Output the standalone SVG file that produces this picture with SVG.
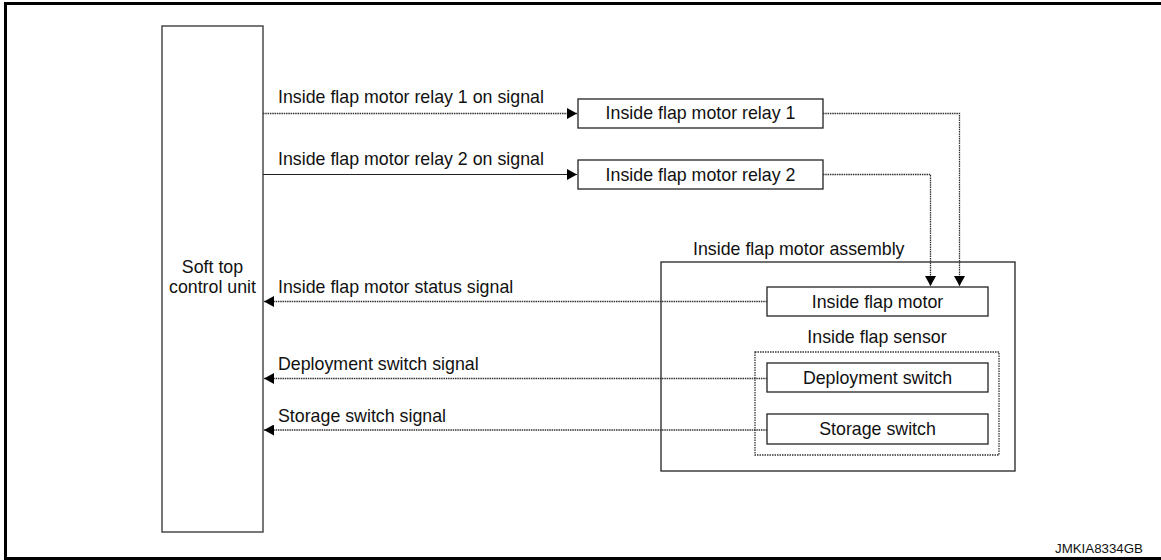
<svg xmlns="http://www.w3.org/2000/svg" width="1161" height="560" viewBox="0 0 1161 560">
  <style>
    text { font-family: "Liberation Sans", Arial, sans-serif; font-size: 17.8px; fill: #111; }
    .mid { text-anchor: middle; }
    .box { fill: #fff; stroke: #222; stroke-width: 1.3; }
    .unit { fill: #fff; stroke: #555; stroke-width: 1.6; }
    .dotbox { fill: none; stroke: #333; stroke-width: 1.3; stroke-dasharray: 1.5 1; }
    .wire { fill: none; stroke: #222; stroke-width: 1.2; }
    .dot { fill: none; stroke: #333; stroke-width: 1.3; stroke-dasharray: 1.5 0.8; }
  </style>
  <defs>
    <marker id="arrow" viewBox="0 0 10 11" refX="10" refY="5.5" markerWidth="10" markerHeight="11" markerUnits="userSpaceOnUse" orient="auto">
      <path d="M0,0 L10,5.5 L0,11 Z" fill="#000"/>
    </marker>
  </defs>

  <rect x="0" y="0" width="1161" height="560" fill="#fff"/>
  <!-- outer frame -->
  <path d="M5.5,560 V3.5 H1161 M5.5,558.5 H1161" fill="none" stroke="#000" stroke-width="3"/>

  <g id="soft-top-control-unit">
    <rect class="unit" x="162" y="26" width="101" height="506"/>
    <text class="mid" x="212.5" y="273">Soft top</text>
    <text class="mid" x="212.5" y="293">control unit</text>
  </g>

  <g id="relay-1">
    <rect class="box" x="578" y="99" width="245" height="29"/>
    <text class="mid" x="700.5" y="119">Inside flap motor relay 1</text>
  </g>

  <g id="relay-2">
    <rect class="box" x="578" y="160" width="245" height="29"/>
    <text class="mid" x="700.5" y="181">Inside flap motor relay 2</text>
  </g>

  <g id="motor-assembly">
    <rect class="box" x="661" y="262" width="354" height="209"/>
    <text x="693" y="255">Inside flap motor assembly</text>
  </g>

  <g id="inside-flap-motor">
    <rect class="box" x="767" y="287" width="221" height="29"/>
    <text class="mid" x="877.5" y="308">Inside flap motor</text>
  </g>

  <g id="inside-flap-sensor">
    <rect class="dotbox" x="755" y="352" width="244" height="103"/>
    <text class="mid" x="877" y="343">Inside flap sensor</text>
  </g>

  <g id="deployment-switch">
    <rect class="box" x="767" y="363" width="221" height="29"/>
    <text class="mid" x="877.5" y="384">Deployment switch</text>
  </g>

  <g id="storage-switch">
    <rect class="box" x="767" y="414" width="221" height="30"/>
    <text class="mid" x="877.5" y="435">Storage switch</text>
  </g>

  <g id="connectors">
    <!-- control unit to relays -->
    <path class="dot" d="M263,113.5 H577" marker-end="url(#arrow)"/>
    <path class="wire" d="M263,174.5 H577" marker-end="url(#arrow)"/>
    <!-- relays to motor -->
    <path class="dot" d="M823,113.5 H959.5 V286" marker-end="url(#arrow)"/>
    <path class="dot" d="M823,174.5 H930.5 V286" marker-end="url(#arrow)"/>
    <!-- feedback signals -->
    <path class="dot" d="M767,301.5 H264" marker-end="url(#arrow)"/>
    <path class="dot" d="M767,378.5 H264" marker-end="url(#arrow)"/>
    <path class="dot" d="M767,430 H264" marker-end="url(#arrow)"/>
    <text x="278" y="103">Inside flap motor relay 1 on signal</text>
    <text x="278" y="165">Inside flap motor relay 2 on signal</text>
    <text x="278" y="293">Inside flap motor status signal</text>
    <text x="278" y="370">Deployment switch signal</text>
    <text x="278" y="421.5">Storage switch signal</text>
  </g>

  <text x="1055" y="553" style="font-size:12px" textLength="88" lengthAdjust="spacingAndGlyphs">JMKIA8334GB</text>
</svg>
